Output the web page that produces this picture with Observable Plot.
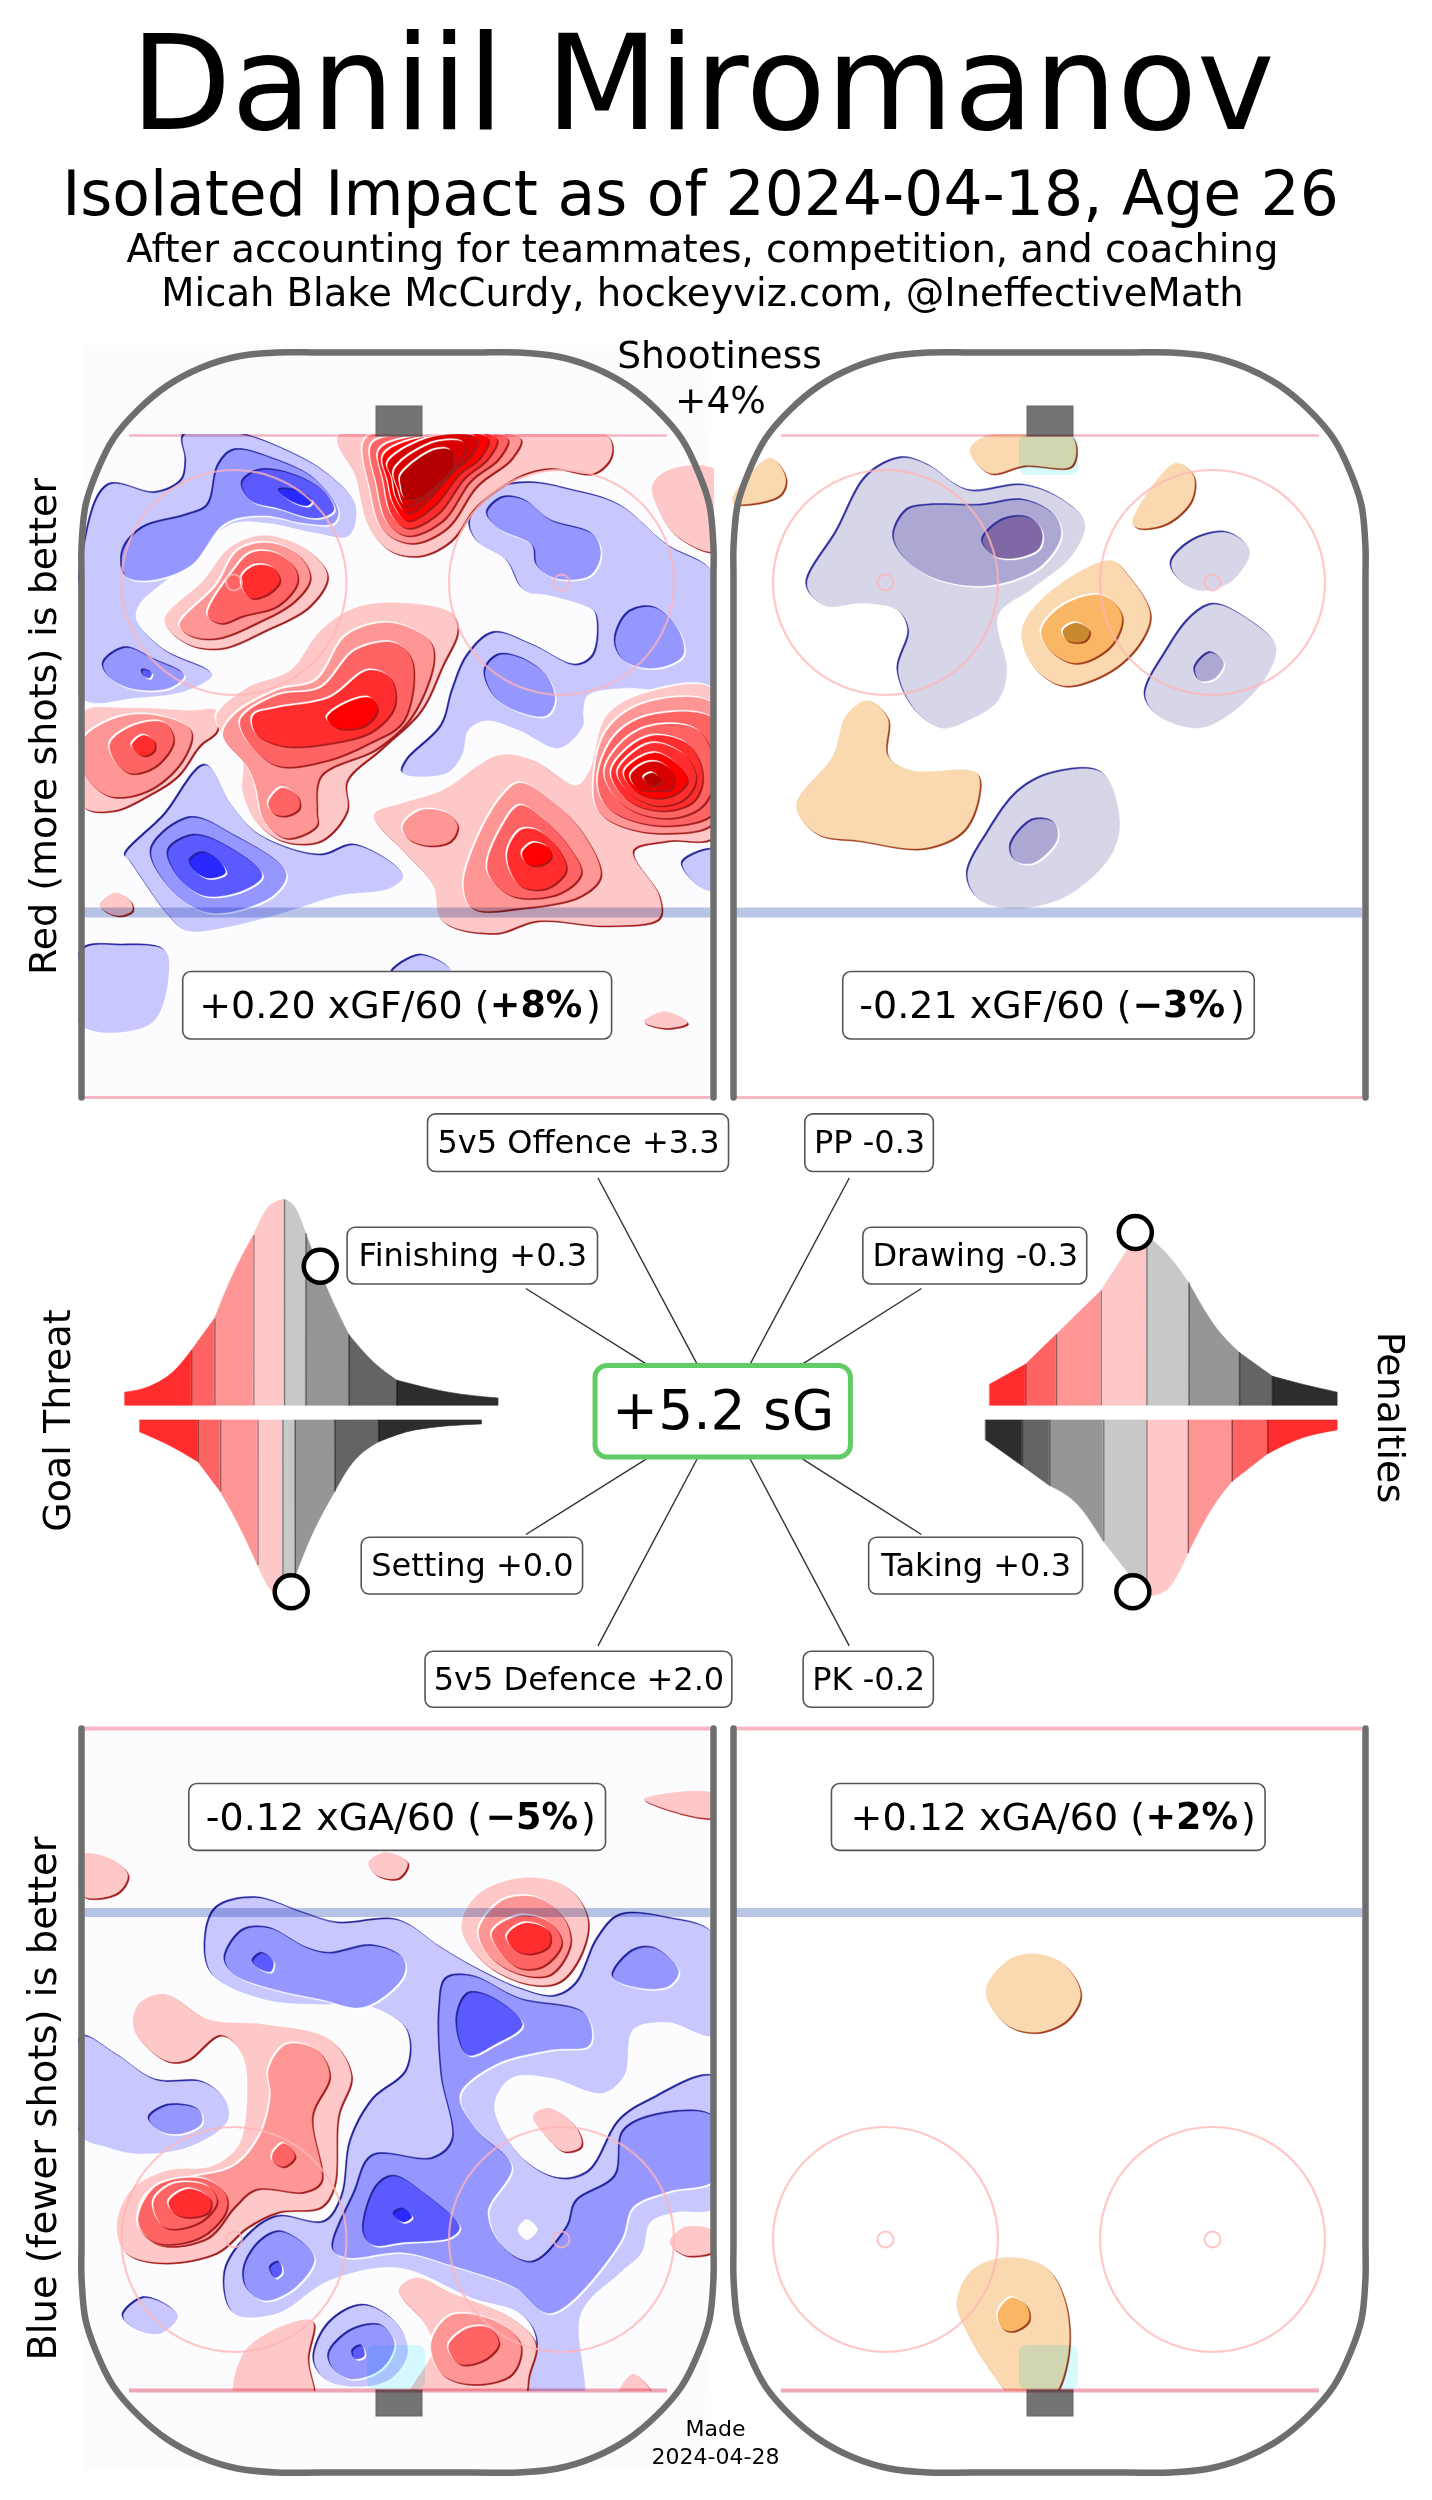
<!DOCTYPE html>
<html><head><meta charset="utf-8">
<style>html,body{margin:0;padding:0;background:#fff}</style>
<script src="https://cdn.jsdelivr.net/npm/d3@7"></script>
<script src="https://cdn.jsdelivr.net/npm/@observablehq/plot@0.6"></script>
</head><body><div id="chart"></div>
<script>
// ---- values ----------------------------------------------------------------
const playerTitle = "Daniil Miromanov";
const subtitleLines = ["Isolated Impact as of 2024-04-18, Age 26","After accounting for teammates, competition, and coaching","Micah Blake McCurdy, hockeyviz.com, @IneffectiveMath"];
const impactLabels = ["5v5 Offence +3.3","PP -0.3","Finishing +0.3","Drawing -0.3","Setting +0.0","Taking +0.3","5v5 Defence +2.0","PK -0.2"];
const totalLabel = "+5.2 sG";
const rateLead = ["+0.20 xGF/60 (","-0.21 xGF/60 (","-0.12 xGA/60 (","+0.12 xGA/60 ("];
const rateBold = ["+8%","\u22123%","\u22125%","+2%"];

// traced contour bands, "x,y x,y ..." in each panel's own units, lowest band first
const forEven = [
["b1","110,310 220,325 280,300 290,260 285,210 400,205 520,240 620,290 680,350 665,410 590,405 480,385 400,385 340,420 270,480 180,550 175,580 240,640 340,680 350,690 290,720 170,735 50,735 52,450"],
["b2","145,440 190,395 290,370 340,350 365,270 400,240 500,260 590,300 640,360 630,385 560,385 470,370 380,385 300,470 200,500 150,490"],
["b3","420,305 460,280 540,290 610,325 630,360 590,375 500,355 440,340"],
["b4","505,320 540,320 580,340 570,350 530,340"],
["b2","100,665 150,635 220,660 285,690 250,715 160,715 110,690"],
["b3","190,680 210,685 205,695 192,690"],
["b1","945,380 1000,320 1080,305 1180,320 1290,350 1400,430 1510,490 1510,710 1400,720 1300,715 1215,730 1205,765 1205,790 1150,835 1060,800 980,780 940,800 925,850 890,885 790,885 800,860 880,790 905,720 940,650 1000,605 1090,630 1190,670 1230,650 1240,580 1230,560 1130,530 1070,520 1030,460 960,420"],
["b2","985,365 1020,335 1070,340 1130,380 1230,410 1245,450 1220,490 1140,495 1100,470 1090,430 1010,395"],
["b2","1280,620 1310,565 1370,555 1425,600 1435,650 1370,675 1300,660"],
["b2","980,680 1010,650 1060,655 1120,690 1140,740 1120,770 1050,760 1000,730"],
["r1","1365,310 1400,280 1510,280 1510,440 1420,410 1380,360"],
["r1","640,212 950,210 1260,210 1270,250 1230,285 1130,275 1060,290 960,350 900,420 830,450 760,440 710,390 680,290"],
["r2","705,215 880,212 1060,215 1040,255 960,310 890,395 810,425 745,400 715,320"],
["r3","720,225 880,213 1030,215 1010,255 945,300 880,380 800,410 755,385 730,310"],
["r4","735,240 800,215 1005,215 985,255 930,295 870,365 800,395 765,370 745,300"],
["r5","745,250 830,215 985,215 965,255 920,285 860,350 800,380 770,350 755,300"],
["r6","755,265 850,215 960,215 945,250 905,280 850,335 800,365 775,335 765,295"],
["r6","770,280 860,225 930,225 925,255 885,295 835,335 795,350 780,320"],
["r7","785,290 860,240 900,240 905,270 865,310 825,335 795,335 785,310"],
["r1","240,580 330,500 390,435 470,410 570,440 615,490 575,550 470,600 370,635 290,625"],
["r2","275,590 360,510 410,440 480,425 550,450 575,495 540,540 450,585 360,615 300,610"],
["r3","340,570 400,480 440,445 495,445 540,475 545,505 500,550 420,570 370,585"],
["r4","420,490 450,470 490,475 505,500 480,525 440,535 420,515"],
["r1","50,765 150,755 300,760 360,760 360,800 320,830 270,890 200,930 120,960 50,950"],
["r1","360,770 430,715 530,680 600,600 680,555 780,545 900,565 915,600 880,670 830,760 740,835 660,900 660,960 600,1020 510,1020 450,980 420,920 420,860 370,800"],
["r2","50,820 130,775 220,770 300,800 280,860 200,920 110,930 50,880"],
["r3","115,825 170,790 240,785 260,820 220,870 160,885 125,860"],
["r4","165,830 190,810 215,820 215,840 190,850"],
["r2","400,770 500,720 590,700 660,610 760,585 850,620 860,660 810,770 730,835 600,890 590,960 590,990 520,1015 470,980 450,910 430,870 375,810"],
["r3","415,780 500,730 600,715 680,640 770,625 810,660 790,780 710,825 610,860 500,870 440,830"],
["r4","445,770 500,755 620,735 710,680 760,695 770,750 720,800 620,825 510,830 450,805"],
["r5","615,775 660,745 715,735 730,760 700,790 640,795"],
["r3","480,945 510,915 545,930 550,955 520,970 490,965"],
["r1","725,965 790,945 880,920 1010,850 1090,860 1190,910 1220,880 1260,770 1350,725 1510,720 1510,1010 1400,1020 1320,1040 1380,1130 1380,1175 1260,1190 1100,1180 1000,1205 880,1180 860,1110 790,1040 725,980"],
["r2","1230,900 1260,800 1350,745 1510,750 1510,980 1400,1005 1290,990 1240,960"],
["r3","1240,890 1280,810 1360,770 1510,780 1510,960 1400,990 1290,970 1250,940"],
["r3","1255,885 1300,820 1370,790 1470,800 1510,880 1480,950 1400,975 1300,950"],
["r4","1270,885 1310,835 1370,810 1450,830 1480,890 1460,940 1390,960 1310,940"],
["r4","1285,885 1320,845 1370,825 1440,850 1465,895 1440,935 1380,950 1320,930"],
["r5","1300,885 1335,855 1375,845 1425,870 1445,900 1420,925 1375,935 1325,920"],
["r6","1315,890 1350,865 1385,865 1415,890 1410,915 1370,920 1330,915"],
["r7","1345,895 1365,885 1385,900 1365,910"],
["r2","930,1110 960,1020 1020,930 1060,905 1130,940 1200,1000 1245,1090 1200,1130 1060,1155 950,1155"],
["r3","985,1080 1020,990 1060,950 1110,975 1170,1030 1200,1085 1150,1125 1040,1130"],
["r4","1030,1050 1060,1000 1100,1000 1150,1040 1165,1080 1120,1115 1060,1110"],
["r5","1065,1045 1090,1025 1125,1035 1130,1055 1100,1070 1075,1065"],
["r2","790,990 830,960 890,965 915,990 900,1020 850,1030 800,1015"],
["r1","90,1150 125,1125 160,1140 165,1160 130,1170"],
["r1","1345,1382 1395,1362 1445,1385 1395,1395"],
["b1","150,1050 240,970 335,870 395,950 460,1010 600,1050 680,1030 790,1090 760,1115 640,1130 530,1160 400,1190 290,1200 250,1170 160,1060"],
["b2","210,1040 300,975 400,1010 520,1085 490,1130 350,1165 270,1130"],
["b3","250,1040 310,1010 400,1040 465,1090 420,1120 330,1130 270,1090"],
["b4","300,1060 330,1045 370,1065 380,1085 340,1095 310,1080"],
["b1","50,1240 140,1230 240,1240 250,1280 210,1385 50,1390"],
["b1","765,1285 830,1250 900,1280 830,1300"],
["b1","1435,1065 1510,1040 1510,1120 1470,1110"]
];
const forOther = [
["l1","200,510 270,400 340,290 420,255 480,270 570,320 700,310 790,340 840,385 810,450 720,515 640,570 660,680 640,740 570,780 510,795 450,760 410,680 435,600 410,560 330,545 240,550"],
["l2","400,410 430,360 480,350 600,350 700,340 770,370 785,410 740,470 650,505 570,510 480,490 420,450"],
["l3","605,420 650,380 710,375 740,400 735,435 680,455 630,450"],
["l1","1040,465 1090,420 1170,405 1220,440 1180,500 1110,520 1060,500"],
["l1","980,730 1030,640 1090,570 1140,548 1220,580 1280,630 1260,690 1170,770 1100,795 1010,770"],
["l2","1095,675 1130,645 1160,665 1140,695 1105,700"],
["l1","570,1090 620,1000 690,920 770,885 880,885 920,980 900,1050 800,1130 690,1155 600,1140"],
["l2","670,1030 720,980 770,985 775,1020 720,1065 680,1060"],
["o1","30,330 115,255 150,295 135,330 30,345"],
["o1","575,240 610,212 810,212 810,270 700,270 620,285"],
["o1","950,385 1050,265 1090,290 1085,340 1030,385 965,395"],
["o1","695,600 750,530 900,460 940,490 990,565 970,620 900,680 790,710 720,670"],
["o2","740,600 790,550 880,530 925,570 900,630 820,665 760,640"],
["o3","790,600 820,585 850,600 840,620 800,620"],
["o1","175,950 260,850 290,770 340,740 385,775 385,850 440,880 590,885 595,930 560,1000 470,1035 320,1020 220,1005"]
];
const againstEven = [
["r1","1345,195 1510,185 1510,230"],
["r1","50,305 120,315 155,345 130,380 50,385"],
["r1","710,320 750,300 800,320 780,350 730,345"],
["b1","335,470 360,410 450,390 560,420 640,440 780,435 880,490 960,530 1060,570 1140,585 1190,560 1240,470 1290,425 1400,430 1510,465 1510,660 1400,635 1320,650 1300,740 1250,775 1130,745 1040,745 1000,800 1060,900 1150,945 1220,930 1290,830 1360,790 1510,745 1510,1000 1420,1010 1360,1030 1340,1090 1290,1130 1200,1210 1200,1400 1075,1400 1100,1260 1060,1210 950,1180 780,1120 620,1145 500,1210 400,1210 380,1130 430,1060 500,1020 610,1030 650,980 670,870 720,790 800,730 800,650 700,600 600,600 470,590 350,540"],
["r1","925,450 960,385 1070,350 1170,370 1215,430 1200,500 1150,555 1080,560 980,520"],
["r2","965,455 1020,395 1100,390 1160,430 1175,480 1130,540 1060,540 990,505"],
["r3","995,460 1060,425 1130,440 1155,480 1110,525 1050,525"],
["r4","1030,465 1070,440 1125,455 1125,485 1080,500 1045,490"],
["b1","50,665 130,700 220,750 330,755 380,790 385,830 300,880 180,895 100,880 50,860"],
["b2","205,825 250,800 320,810 325,835 280,855 230,850"],
["b1","145,1215 195,1180 270,1215 230,1250 170,1240"],
["b2","380,510 420,455 480,450 570,490 620,500 720,485 790,510 790,545 700,605 600,590 470,565 400,540"],
["b3","445,515 465,500 490,515 485,535 460,530"],
["b2","1275,545 1320,495 1370,490 1425,535 1400,565 1320,565"],
["b2","875,610 890,550 950,545 1060,590 1210,620 1220,680 1130,690 1000,720 920,780 960,850 1040,920 985,1010 1020,1080 1090,1110 1170,1040 1190,990 1280,940 1300,850 1400,815 1510,825 1510,945 1400,970 1320,1000 1290,1070 1130,1210 1050,1160 900,1115 790,1090 660,1100 630,1085 680,970 720,900 860,905 905,870 880,740"],
["b3","915,630 940,580 990,585 1065,640 1000,680 940,700"],
["b3","700,1050 730,960 770,940 840,975 920,1040 900,1060 790,1070 720,1075"],
["b4","770,1015 790,1005 810,1020 790,1030"],
["b2","425,1120 460,1070 510,1050 585,1100 540,1160 470,1185 430,1160"],
["b3","485,1120 505,1110 510,1130 495,1140"],
["w","1055,1045 1075,1025 1100,1045 1075,1065"],
["b1","585,1300 620,1230 700,1195 780,1235 800,1290 760,1340 680,1355 610,1340"],
["b2","620,1290 670,1245 740,1235 770,1270 740,1320 670,1340 630,1320"],
["b3","675,1285 695,1275 700,1295 680,1300"],
["r1","405,1390 430,1280 580,1225 570,1300 580,1390"],
["r1","780,1165 820,1140 900,1170 1040,1220 1095,1270 1080,1330 1060,1390 800,1390 860,1280 840,1230"],
["r2","855,1270 900,1215 1000,1225 1060,1270 1040,1330 950,1350 880,1330"],
["r3","895,1275 940,1240 990,1240 1010,1270 980,1300 920,1310"],
["r1","1280,1390 1320,1330 1375,1390"],
["r1","1405,1070 1440,1040 1510,1050 1510,1085 1440,1095"],
["r1","130,1040 160,970 240,930 350,920 410,880 430,800 420,700 370,660 290,710 240,710 170,650 180,600 240,580 340,630 470,640 620,670 670,740 640,820 630,960 600,1000 500,1010 430,1040 360,1090 230,1110 150,1090"],
["r2","480,730 520,680 590,690 620,740 580,820 600,950 560,970 450,965 400,1000 340,1060 230,1075 180,1040 200,975 290,945 400,920 460,860 485,780"],
["r3","180,1030 220,960 330,945 380,975 380,1010 320,1060 220,1070"],
["r3","215,990 260,955 340,960 360,990 320,1030 240,1040"],
["r4","250,990 295,965 345,985 340,1010 290,1020 260,1010"],
["r3","490,895 515,875 540,900 515,920 490,910"],
["r1","1090,820 1125,805 1190,845 1200,880 1160,890 1110,850"]
];
const againstOther = [
["o1","612,575 660,515 720,500 790,520 830,580 800,630 730,655 660,640"],
["o1","545,1190 580,1125 660,1100 750,1120 795,1190 800,1300 760,1380 680,1380 620,1320 570,1250"],
["o2","640,1210 670,1180 705,1195 710,1225 675,1245 650,1240"]
];

// goal-threat and penalty distributions: baseline, band edges and curve points
const finishingBase = 768, finishingEdges = [30,110,138,185,222,248,300,358,480];
const finishingCurve = [[30,735],[60,720],[90,680],[110,630],[138,550],[160,440],[185,340],[205,265],[222,250],[235,270],[248,335],[275,480],[300,590],[330,660],[358,705],[420,735],[480,750]];
const settingBase = 805, settingEdges = [48,118,145,190,220,235,283,336,460];
const settingCurve = [[48,835],[80,865],[118,910],[145,985],[165,1060],[190,1170],[205,1230],[220,1250],[235,1200],[250,1120],[283,985],[300,925],[336,860],[380,830],[460,815]];
const drawingBase = 768, drawingEdges = [1073,1116,1153,1207,1262,1313,1374,1414,1492];
const drawingCurve = [[1073,715],[1116,665],[1153,590],[1207,480],[1235,390],[1250,345],[1262,340],[1290,395],[1313,460],[1345,570],[1374,635],[1414,695],[1450,715],[1492,735]];
const takingBase = 805, takingEdges = [1068,1112,1145,1210,1262,1312,1365,1408,1492];
const takingCurve = [[1068,855],[1112,920],[1145,970],[1180,1020],[1210,1110],[1240,1190],[1262,1250],[1285,1235],[1312,1140],[1340,1030],[1365,960],[1408,890],[1450,850],[1492,830]];
const markerSpots = [[265,417],[230,1236],[1248,332],[1245,1236]];

// ---- layout ----------------------------------------------------------------
const frames = {
  A:{ox:60, oy:330, sx:2.306,sy:2},
  B:{ox:720,oy:330, sx:2.306,sy:2},
  C:{ox:60, oy:1700,sx:2.306,sy:1.975},
  D:{ox:720,oy:1700,sx:2.306,sy:1.975},
  M:{ox:100,oy:1100,sx:1.206,sy:2.516}
};
const X = (f,v)=>frames[f].ox+v/frames[f].sx, Y = (f,v)=>frames[f].oy+v/frames[f].sy;
const pts = (f,s)=>s.split(" ").map(p=>{const [a,b]=p.split(",").map(Number);return {x:X(f,a),y:Y(f,b)};});
const band = {b1:"#c8c8ff",b2:"#9696ff",b3:"#5a5aff",b4:"#2828ff",r1:"#ffc8c8",r2:"#ff9696",r3:"#ff6464",r4:"#ff2d2d",r5:"#ff0000",r6:"#d80000",r7:"#b40000",
  l1:"#d7d5e8",l2:"#aca8d3",l3:"#7f68a5",o1:"#fad9b0",o2:"#f9b766",o3:"#c98a2f",w:"#fdfdff"};
const edge = k=>{
  const c=k[0];
  if(c==="b"||c==="l") return {dark:c==="b"?"#22229a":"#30309c",light:"#ffffff",dx:-1.5,dy:-1.5};
  if(c==="r") return {dark:"#a01c1c",light:"#ffffff",dx:1.5,dy:1.5};
  if(c==="o") return {dark:"#a03a18",light:"#ffffff",dx:1.5,dy:1.5};
  return null;
};
const contourMarks = (f,list)=>list.flatMap(([k,s])=>{
  const p=pts(f,s), e=edge(k), opt={x:"x",y:"y",curve:"catmull-rom-closed",strokeWidth:0.5};
  const out=[];
  if(e){
    out.push(Plot.line(p,{...opt,fill:e.light,stroke:e.light,dx:-e.dx,dy:-e.dy}));
    out.push(Plot.line(p,{...opt,fill:e.dark,stroke:e.dark,dx:e.dx,dy:e.dy}));
  }
  out.push(Plot.line(p,{...opt,fill:band[k],stroke:band[k],strokeWidth:0.4}));
  return out;
});

const wallTop=[[81,1097],[81,900],[81,700],[81,620],[81,575],[81,547],[85,505],[96,472],[113,438],[138,409],[167,385],[201,367],[237,356],[276,352],[320,352],[397,352],[474,352],[518,352],[557,356],[593,367],[627,385],[656,409],[681,438],[698,472],[709,505],[713,547],[713,575],[713,620],[713,700],[713,900],[713,1097]];
const wallBottom=wallTop.map(([x,y])=>[x,y===1097?1728:(y===900?2000:y===700?2100:y===620?2195:y===575?2245:2824-y)]);
const panelShift=[0,652];
const wallMarks = panelShift.flatMap(s=>[wallTop,wallBottom].map(w=>
  Plot.line(w.map(([x,y])=>({x:x+s,y})),{x:"x",y:"y",curve:"catmull-rom",stroke:"#6e6e6e",strokeWidth:6.5})));

const faceoff=[{x:233.5,y:582},{x:561,y:582},{x:885,y:582},{x:1212,y:582},{x:233.5,y:2239},{x:561,y:2239},{x:885,y:2239},{x:1212,y:2239}];
const hLines=[
 {x1:129,x2:667,y:435,c:"#f7b8c4",w:2.5},{x1:781,x2:1319,y:435,c:"#f7b8c4",w:2.5},
 {x1:84,x2:710,y:1097,c:"#f7b8c4",w:3},{x1:736,x2:1362,y:1097,c:"#f7b8c4",w:3},
 {x1:84,x2:710,y:1728,c:"#f7b8c4",w:4},{x1:736,x2:1362,y:1728,c:"#f7b8c4",w:4},
 {x1:129,x2:667,y:2390,c:"#f0a8b6",w:4},{x1:781,x2:1319,y:2390,c:"#f0a8b6",w:4},
 {x1:84,x2:710,y:912,c:"#b9c6e6",w:10},{x1:736,x2:1362,y:912,c:"#b9c6e6",w:10},
 {x1:84,x2:710,y:1912,c:"#b9c6e6",w:9},{x1:736,x2:1362,y:1912,c:"#b9c6e6",w:9}
];
const nets=[{x1:376,x2:422,y1:406,y2:436},{x1:1027,x2:1073,y1:406,y2:436},{x1:376,x2:422,y1:2390,y2:2416},{x1:1027,x2:1073,y1:2390,y2:2416}];
const creases=[{x1:1019,x2:1078,y1:435,y2:475},{x1:367,x2:425,y1:2345,y2:2389},{x1:1019,x2:1078,y1:2345,y2:2389}];

const impactBoxes=[[395,758,35,180],[850,1005,35,180],[298,600,320,463],[920,1190,320,463],[315,582,1100,1243],[927,1185,1100,1243],[392,762,1387,1528],[848,1005,1387,1528]];
const spokes=[[600,195,720,665],[903,195,783,665],[513,473,660,665],[990,473,845,665],[660,900,513,1092],[845,900,990,1092],[720,900,600,1372],[783,900,903,1372]];
const rateBoxes=[
 {f:"A",x1:283,x2:1272,y1:1283,y2:1418,t0:320,t1:990,t2:1212},
 {f:"B",x1:283,x2:1232,y1:1283,y2:1418,t0:320,t1:950,t2:1175},
 {f:"C",x1:297,x2:1258,y1:165,y2:297,t0:335,t1:980,t2:1200},
 {f:"D",x1:257,x2:1257,y1:165,y2:297,t0:300,t1:980,t2:1200}
];
const dejavu="DejaVu Sans";
const T=(label,x,y,fontSize,extra={})=>Plot.text([{label,x,y}],{x:"x",y:"y",text:"label",fontSize,fontFamily:dejavu,fill:"#000",...extra});

const grey=["#ff2d2d","#ff6464","#ff9696","#ffc8c8","#c8c8c8","#969696","#646464","#2d2d2d"];
const distMarks=(curve,edges,base,cols)=>{
  const yAt=x=>{const i=curve.findIndex(c=>c[0]>=x);if(curve[i][0]===x)return curve[i][1];const a=curve[i-1],b=curve[i];return a[1]+(b[1]-a[1])*(x-a[0])/(b[0]-a[0]);};
  const out=[];
  for(let i=0;i<cols.length;i++){
    const seg=curve.filter(c=>c[0]>=edges[i]&&c[0]<=edges[i+1]).map(c=>({x:X("M",c[0]),y1:Y("M",base),y2:Y("M",c[1])}));
    out.push(Plot.areaY(seg,{x:"x",y1:"y1",y2:"y2",fill:cols[i],curve:"monotone-x",stroke:cols[i],strokeWidth:0.6}));
  }
  const seps=edges.slice(1,-1).map(e=>({x:X("M",e),y1:Y("M",base),y2:Y("M",yAt(e))}));
  out.push(Plot.ruleX(seps,{x:"x",y1:"y1",y2:"y2",stroke:"#000",strokeOpacity:0.4,strokeWidth:1.3}));
  return out;
};

const marks=[
  Plot.rect([{x1:X("A",52),x2:X("A",1495),y1:Y("A",45),y2:Y("A",1535)},{x1:X("C",52),x2:X("C",1495),y1:Y("C",55),y2:Y("C",1520)}],
    {x1:"x1",x2:"x2",y1:"y1",y2:"y2",fill:"#fcfcff"}),
  contourMarks("A",forEven),contourMarks("B",forOther),contourMarks("C",againstEven),contourMarks("D",againstOther),
  // crop the bands to the rink sides and the goal lines
  Plot.rect([{x1:0,x2:78,y1:340,y2:1100},{x1:0,x2:78,y1:1725,y2:2480},{x1:714,x2:732,y1:340,y2:1100},{x1:714,x2:732,y1:1725,y2:2480},{x1:1366,x2:1432,y1:340,y2:1100},
             {x1:733,x2:1365,y1:340,y2:434},{x1:733,x2:1365,y1:2391,y2:2476}],
    {x1:"x1",x2:"x2",y1:"y1",y2:"y2",fill:"#fff"}),
  Plot.rect([{x1:83,x2:711,y1:345,y2:434},{x1:83,x2:711,y1:2391,y2:2470}],{x1:"x1",x2:"x2",y1:"y1",y2:"y2",fill:"#fcfcff"}),
  Plot.rect(creases,{x1:"x1",x2:"x2",y1:"y1",y2:"y2",fill:"#d6fbff",rx:8,mixBlendMode:"multiply"}),
  Plot.rect(nets,{x1:"x1",x2:"x2",y1:"y1",y2:"y2",fill:"#747474",stroke:"#666",strokeWidth:1}),
  hLines.map(l=>Plot.ruleY([l],{x1:"x1",x2:"x2",y:"y",stroke:l.c,strokeWidth:l.w,mixBlendMode:"multiply"})),
  Plot.dot(faceoff,{x:"x",y:"y",r:112.5,stroke:"#ffb4b4",strokeOpacity:0.75,strokeWidth:2.2}),
  Plot.dot(faceoff,{x:"x",y:"y",r:8,stroke:"#ffb4b4",strokeOpacity:0.8,strokeWidth:2}),
  wallMarks,
  // rate boxes
  rateBoxes.map((b,i)=>[
    Plot.rect([b],{x1:d=>X(d.f,d.x1),x2:d=>X(d.f,d.x2),y1:d=>Y(d.f,d.y1),y2:d=>Y(d.f,d.y2),fill:"#fff",stroke:"#555",strokeWidth:1.6,rx:8}),
    T(rateLead[i],X(b.f,b.t0),Y(b.f,(b.y1+b.y2)/2),38,{textAnchor:"start"}),
    T(rateBold[i],X(b.f,b.t1),Y(b.f,(b.y1+b.y2)/2),36.5,{textAnchor:"start",fontWeight:"bold"}),
    T(")",X(b.f,b.t2),Y(b.f,(b.y1+b.y2)/2),38,{textAnchor:"start"})
  ]),
  // distributions
  distMarks(finishingCurve,finishingEdges,finishingBase,grey),
  distMarks(settingCurve,settingEdges,settingBase,grey),
  distMarks(drawingCurve,drawingEdges,drawingBase,grey),
  distMarks(takingCurve,takingEdges,takingBase,grey.slice().reverse()),
  Plot.dot(markerSpots.map(([a,b])=>({x:X("M",a),y:Y("M",b)})),{x:"x",y:"y",r:16.5,fill:"#fff",stroke:"#000",strokeWidth:4.5}),
  // spokes and labels
  Plot.link(spokes.map(([a,b,c,d])=>({x1:X("M",a),y1:Y("M",b),x2:X("M",c),y2:Y("M",d)})),{x1:"x1",y1:"y1",x2:"x2",y2:"y2",stroke:"#333",strokeWidth:1.4}),
  impactLabels.map((t,i)=>{const [a,b,c,d]=impactBoxes[i];return [
    Plot.rect([{x1:X("M",a),x2:X("M",b),y1:Y("M",c),y2:Y("M",d)}],{x1:"x1",x2:"x2",y1:"y1",y2:"y2",fill:"#fff",stroke:"#555",strokeWidth:1.6,rx:8}),
    T(t,X("M",(a+b)/2),Y("M",(c+d)/2),32)
  ];}),
  Plot.rect([{x1:X("M",597),x2:X("M",905),y1:Y("M",668),y2:Y("M",898)}],{x1:"x1",x2:"x2",y1:"y1",y2:"y2",fill:"#fff",stroke:"#60cc66",strokeWidth:5,rx:12}),
  T(totalLabel,X("M",751),Y("M",782),55),
  // titles
  T(playerTitle,702,87,131),
  T(subtitleLines[0],700,195,61.5),
  T(subtitleLines[1],702,249,38.5),
  T(subtitleLines[2],702,293,38.5),
  T("Shootiness",719,355,37.5),
  T("+4%",720,400,37.5),
  T("Red (more shots) is better",43,726,38,{rotate:-90}),
  T("Blue (fewer shots) is better",43,2098,38.5,{rotate:-90}),
  T("Goal Threat",57,1420,38,{rotate:-90}),
  T("Penalties",1390,1417,38,{rotate:90}),
  T("Made",715,2428,22),
  T("2024-04-28",715,2456,22)
];

const chart=Plot.plot({
  width:1432,height:2500,margin:0,
  x:{domain:[0,1432],range:[0,1432],axis:null},
  y:{domain:[0,2500],range:[0,2500],axis:null},
  style:{fontFamily:dejavu,background:"#fff",filter:"blur(0.6px)"},
  marks
});
document.getElementById("chart").append(chart);
</script></body></html>
